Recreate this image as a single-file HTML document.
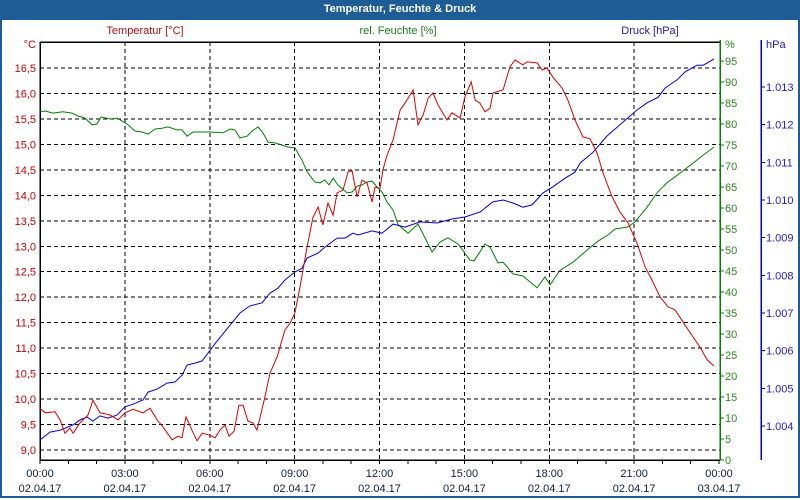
<!DOCTYPE html>
<html><head><meta charset="utf-8">
<style>
html,body{margin:0;padding:0;background:#fff;}
#wrap{position:relative;width:800px;height:500px;overflow:hidden;background:#fff;font-family:"Liberation Sans",sans-serif;}
#titlebar{position:absolute;left:0;top:0;width:800px;height:20px;background:#1e5c96;color:#fff;font-weight:bold;font-size:11px;text-align:center;line-height:19px;}
#frame{position:absolute;left:0;top:20px;width:796px;height:476px;border:2px solid #1e5c96;border-top:none;}
svg{position:absolute;left:0;top:0;}
</style></head>
<body>
<div id="wrap">
<div id="titlebar">Temperatur, Feuchte &amp; Druck</div>
<div id="frame"></div>
<svg id="chart" width="800" height="500"></svg>
</div>
<script>
const tempTimes=[0,0.18,0.53,0.71,0.88,1.06,1.17,1.41,1.70,1.87,2.12,2.47,2.76,3.00,3.29,3.64,3.89,4.14,4.35,4.67,4.88,5.02,5.16,5.37,5.55,5.73,6.01,6.19,6.36,6.54,6.68,6.86,7.03,7.18,7.35,7.53,7.67,7.95,8.13,8.38,8.66,8.84,9.01,9.19,9.44,9.65,9.83,10.00,10.18,10.36,10.50,10.71,10.89,11.03,11.21,11.38,11.56,11.74,11.84,12.02,12.12,12.27,12.48,12.73,12.90,13.19,13.36,13.54,13.72,13.89,14.07,14.39,14.56,14.85,15.02,15.24,15.38,15.55,15.73,15.91,16.01,16.37,16.61,16.79,16.90,17.07,17.21,17.57,17.75,17.92,18.13,18.45,18.66,18.91,19.19,19.44,19.69,19.90,20.22,20.50,20.78,21.10,21.39,21.63,21.92,22.20,22.45,22.80,23.08,23.33,23.58,23.82];
const tempValues=[9.82,9.73,9.75,9.59,9.33,9.43,9.33,9.53,9.69,9.98,9.73,9.69,9.59,9.73,9.80,9.73,9.82,9.59,9.45,9.20,9.27,9.24,9.65,9.39,9.18,9.33,9.29,9.24,9.39,9.49,9.27,9.37,9.88,9.88,9.57,9.53,9.39,10.04,10.51,10.83,11.36,11.49,11.69,12.20,12.99,13.57,13.77,13.42,13.85,13.61,14.05,14.10,14.46,14.48,13.97,14.30,14.24,13.87,14.16,14.14,14.50,14.79,15.09,15.68,15.81,16.07,15.38,15.58,15.91,16.01,15.77,15.48,15.62,15.52,15.93,16.23,15.87,15.81,15.64,15.71,16.01,16.07,16.52,16.66,16.62,16.56,16.62,16.60,16.46,16.50,16.32,16.11,15.87,15.48,15.15,15.11,14.83,14.44,13.97,13.67,13.46,13.06,12.59,12.34,12.00,11.81,11.75,11.45,11.22,11.02,10.77,10.65];
const humTimes=[0,0.18,0.46,0.81,1.13,1.34,1.59,1.84,2.01,2.16,2.47,2.72,2.90,3.08,3.36,3.61,3.82,4.07,4.31,4.52,4.84,5.02,5.20,5.41,6.01,6.47,6.72,6.89,7.07,7.32,7.49,7.71,7.88,8.06,8.31,8.77,9.01,9.26,9.44,9.72,9.90,10.07,10.22,10.36,10.53,10.85,11.03,11.21,11.38,11.56,11.74,11.91,12.09,12.27,12.48,12.66,13.01,13.36,13.86,14.14,14.42,14.78,15.20,15.34,15.73,15.91,16.19,16.37,16.72,17.07,17.57,17.85,18.03,18.38,18.84,19.34,19.72,20.08,20.33,20.78,21.03,21.46,21.81,22.16,22.62,23.08,23.44,23.82];
const humValues=[82.9,83.1,82.6,82.9,82.6,81.9,81.4,79.8,80.0,81.7,81.2,81.4,80.7,80.0,78.3,78.1,77.6,78.8,79.0,79.3,78.6,78.6,77.1,78.1,78.1,77.9,78.8,78.6,76.7,77.1,78.3,79.3,77.9,75.7,75.5,74.5,74.3,71.4,68.6,66.2,66.0,66.7,65.5,67.1,65.5,63.6,63.8,65.2,65.5,66.2,66.4,65.0,63.8,61.4,59.5,56.0,54.0,56.2,49.5,51.9,52.9,51.4,47.6,47.4,51.4,50.7,46.9,47.1,44.3,43.8,41.0,43.6,41.7,45.2,47.1,50.0,52.1,53.6,55.0,55.5,56.7,60.2,63.6,66.0,68.3,70.7,72.6,74.5];
const presTimes=[0,0.35,0.71,1.17,1.41,1.66,1.87,2.12,2.40,2.72,3.00,3.29,3.64,3.82,4.14,4.49,4.77,5.02,5.20,5.48,5.73,6.20,6.72,7.07,7.42,7.85,8.13,8.41,8.66,9.01,9.26,9.44,9.83,10.07,10.50,10.78,11.06,11.24,11.74,12.09,12.48,12.90,13.43,14.03,14.60,15.02,15.55,16.01,16.37,16.72,17.07,17.39,17.78,18.13,18.56,18.91,19.09,19.55,20.04,20.61,21.10,21.46,21.85,22.09,22.52,22.80,23.22,23.44,23.82];
const presValues=[1003.63,1003.84,1003.89,1004.03,1004.16,1004.24,1004.13,1004.27,1004.21,1004.29,1004.51,1004.58,1004.69,1004.90,1004.98,1005.14,1005.17,1005.35,1005.62,1005.67,1005.73,1006.20,1006.68,1007.00,1007.19,1007.27,1007.53,1007.66,1007.88,1008.09,1008.19,1008.46,1008.59,1008.75,1008.99,1008.99,1009.12,1009.07,1009.18,1009.12,1009.36,1009.28,1009.42,1009.39,1009.50,1009.55,1009.68,1009.95,1010.00,1009.92,1009.81,1009.87,1010.19,1010.35,1010.58,1010.74,1010.98,1011.27,1011.70,1012.07,1012.39,1012.58,1012.73,1012.97,1013.19,1013.40,1013.58,1013.58,1013.74];
const tempTicks=[9.0,9.5,10.0,10.5,11.0,11.5,12.0,12.5,13.0,13.5,14.0,14.5,15.0,15.5,16.0,16.5];
const humTicks=[0,5,10,15,20,25,30,35,40,45,50,55,60,65,70,75,80,85,90,95];
const presTicks=[1004,1005,1006,1007,1008,1009,1010,1011,1012,1013];
const timeLabels=["00:00","03:00","06:00","09:00","12:00","15:00","18:00","21:00","00:00"];
const dateLabels=["02.04.17","02.04.17","02.04.17","02.04.17","02.04.17","02.04.17","02.04.17","02.04.17","03.04.17"];

const L=40,R=720,T=42,B=460;
const xS=h=>L+h*(R-1-L)/24;
const yT=v=>450-(v-9.0)*(450-68)/7.5;
const yH=v=>460-v*4.2;
const yP=v=>87-(v-1013)*37.67;
const svg=document.getElementById('chart');
const NS='http://www.w3.org/2000/svg';
function mk(tag,attrs){const e=document.createElementNS(NS,tag);for(const k in attrs)e.setAttribute(k,attrs[k]);svg.appendChild(e);return e;}
function txt(x,y,s,fill,anchor){const e=mk('text',{x:x,y:y,fill:fill,'font-size':'11','text-anchor':anchor||'start','font-family':'Liberation Sans, sans-serif'});e.textContent=s;return e;}

// horizontal grid
tempTicks.forEach(v=>{
  const g=mk('line',{x1:L,x2:R,y1:yT(v),y2:yT(v),stroke:'#000','stroke-dasharray':'4,3','stroke-width':1,'shape-rendering':'crispEdges'});
  
  
  const t=txt(36,yT(v)+4,v.toFixed(1).replace('.',','),'#cc0000','end');
  
  
});
// vertical grid + x labels
timeLabels.forEach((s,i)=>{
  const x=xS(i*3);
  if(i>0&&i<8){const g=mk('line',{x1:x,x2:x,y1:T,y2:B,stroke:'#000','stroke-dasharray':'4,3','stroke-width':1,'shape-rendering':'crispEdges'});
  
  }
  const t=txt(x,477,s,'#102040','middle');
  
  
  const d=txt(x,492,dateLabels[i],'#102040','middle');
  
  
});
for(let h=0;h<=24;h++){const tk=mk('line',{x1:xS(h),x2:xS(h),y1:B,y2:B+4,stroke:'#000','shape-rendering':'crispEdges'});
  
  }
// plot border
const bt=mk('line',{x1:L,x2:R,y1:T,y2:T,stroke:'#000','stroke-width':1.5,'shape-rendering':'crispEdges'});


const bb=mk('line',{x1:L,x2:R,y1:B,y2:B,stroke:'#000','stroke-width':1.5,'shape-rendering':'crispEdges'});


const bl=mk('line',{x1:L,x2:L,y1:T,y2:B,stroke:'#000','stroke-width':1.5,'shape-rendering':'crispEdges'});


const br=mk('line',{x1:R,x2:R,y1:T-2,y2:B,stroke:'#008000','stroke-width':1.5,'shape-rendering':'crispEdges'});


humTicks.forEach(v=>{
  const tk=mk('line',{x1:R,x2:R+4,y1:yH(v),y2:yH(v),stroke:'#008000','shape-rendering':'crispEdges'});
  
  
  const t=txt(725,yH(v)+4,String(v),'#2e8b20');
  
  
});
const pa=mk('line',{x1:761,x2:761,y1:T-2,y2:B,stroke:'#0000cc','stroke-width':1.5,'shape-rendering':'crispEdges'});


presTicks.forEach(v=>{
  const tk=mk('line',{x1:761,x2:765,y1:yP(v),y2:yP(v),stroke:'#0000cc','shape-rendering':'crispEdges'});
  
  
  const t=txt(766,yP(v)+4,(v/1000).toFixed(3),'#2020cc');
  
  
});
// unit labels
let u=txt(36,48,'°C','#cc0000','end');


u=txt(725,48,'%','#2e8b20');


u=txt(766,48,'hPa','#2020cc');


// series titles
u=txt(145,34,'Temperatur [°C]','#b01010','middle');


u=txt(398,34,'rel. Feuchte [%]','#208020','middle');


u=txt(650,34,'Druck [hPa]','#2020a0','middle');


// series
function pts(ts,vs,yf){return ts.map((t,i)=>xS(t).toFixed(1)+','+yf(vs[i]).toFixed(1)).join(' ');}
const lh=mk('polyline',{points:pts(humTimes,humValues,yH),fill:'none',stroke:'#008000','stroke-width':1});


const lp=mk('polyline',{points:pts(presTimes,presValues,yP),fill:'none',stroke:'#0000dd','stroke-width':1});


const lt=mk('polyline',{points:pts(tempTimes,tempValues,yT),fill:'none',stroke:'#dd0000','stroke-width':1});


</script>
</body></html>
